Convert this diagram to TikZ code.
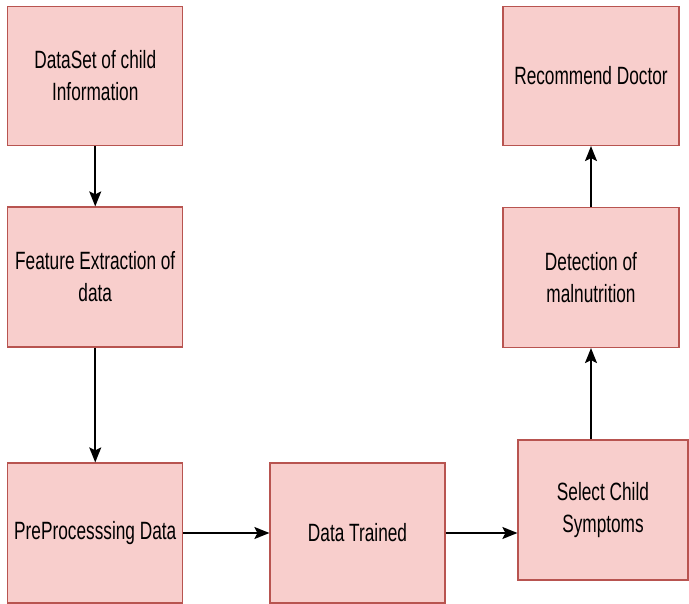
\documentclass[tikz,border=0pt]{standalone}
\usepackage{fontspec}
\setmainfont[FakeStretch=0.69]{Liberation Sans}
\usepackage{xcolor}
\usepackage{tikz}
\usetikzlibrary{positioning, arrows.meta}
\definecolor{boxred}{HTML}{B85450}
\definecolor{boxfill}{HTML}{F8CECC}

\begin{document}
\begin{tikzpicture}[x=1pt, y=-1pt,
    stagebox/.style={fill=boxfill, draw=boxred, line width=1.2pt,
        minimum width=175pt, minimum height=139pt, inner sep=0pt,
        align=center, font=\fontsize{25}{32}\selectfont},
    flowarrow/.style={-{Stealth[length=15pt, width=12pt, inset=3pt]}, line width=1.6pt}]
  \useasboundingbox (0,0) rectangle (689,604);
  % left column
  \node[stagebox] (dataset) at (95.25,76) {DataSet of child\\Information};
  \node[stagebox, minimum height=140pt] (feature) at (95.25,277) {Feature Extraction of\\data};
  \node[stagebox, minimum height=140pt] (preproc) at (95.25,533) {PreProcesssing Data};
  % bottom row
  \node[stagebox, minimum height=140pt] (trained) at (357.5,533) {Data Trained};
  \node[stagebox, minimum width=170pt, minimum height=140pt] (symptoms) at (603,510) {Select Child\\Symptoms};
  % right column
  \node[stagebox, minimum width=176pt, minimum height=140pt] (detect) at (591,277.5) {Detection of\\malnutrition};
  \node[stagebox, minimum width=176pt] (doctor) at (591,76) {Recommend Doctor};

  \draw[flowarrow] (dataset) -- (feature);
  \draw[flowarrow] (feature) -- (preproc);
  \draw[flowarrow] (preproc) -- (trained);
  \draw[flowarrow] (trained) -- (trained -| symptoms.west);
  \draw[flowarrow] (symptoms.north -| detect.south) -- (detect.south);
  \draw[flowarrow] (detect) -- (doctor);
\end{tikzpicture}
\end{document}
